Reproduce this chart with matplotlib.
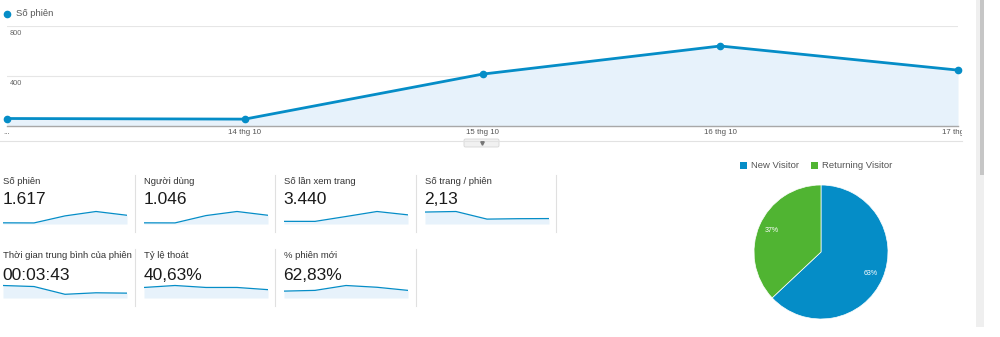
import matplotlib
matplotlib.use("Agg")
import matplotlib.pyplot as plt
from matplotlib.patches import Rectangle, FancyBboxPatch
from matplotlib.transforms import Bbox, TransformedBbox, blended_transform_factory

plt.rcParams['font.family'] = ['Liberation Sans', 'DejaVu Sans']

# ---------------- data ----------------
dates = ["...", "14 thg 10", "15 thg 10", "16 thg 10", "17 thg 10"]
sessions = [60, 55, 415, 640, 447]
y_ticks = [400, 800]

metric_titles = ["Số phiên", "Người dùng", "Số lần xem trang", "Số trang / phiên",
                 "Thời gian trung bình của phiên", "Tỷ lệ thoát", "% phiên mới"]
metric_values = ["1.617", "1.046", "3.440", "2,13", "00:03:43", "40,63%", "62,83%"]
spark_sessions = [60, 55, 415, 640, 447]
spark_users = [40, 38, 290, 430, 300]
spark_pageviews = [265, 262, 750, 1250, 913]
spark_pages_per_session = [4.4, 4.6, 1.8, 1.95, 2.0]
spark_duration = [540, 495, 160, 225, 210]
spark_bounce = [43, 51, 43, 43, 34]
spark_new = [43, 47.5, 78, 67, 47.5]
sparks = [spark_sessions, spark_users, spark_pageviews, spark_pages_per_session,
          spark_duration, spark_bounce, spark_new]

pie_labels = ["New Visitor", "Returning Visitor"]
pie_values = [63, 37]

BLUE = "#058dc7"
GREEN = "#50b432"
FILL = "#e7f2fb"

W, H = 1000, 337
fig = plt.figure(figsize=(10, 3.37), dpi=100)
fig.patch.set_facecolor("white")


def add_ax(x0, y0, x1, y1, **kw):
    return fig.add_axes([x0 / W, 1 - y1 / H, (x1 - x0) / W, (y1 - y0) / H], **kw)


# overlay axes in pixel coordinates (for separators / decoration)
ov = add_ax(0, 0, W, H)
ov.set_xlim(0, W)
ov.set_ylim(H, 0)
ov.axis("off")
ov.set_zorder(-1)

# ---------------- main line chart ----------------
ax = add_ax(7, 26, 958, 126)
x = list(range(len(sessions)))
ax.fill_between(x, sessions, 0, color=FILL, lw=0)
ax.plot(x, sessions, color=BLUE, lw=2.0, marker="o", ms=4.5, clip_on=False, zorder=5)
ax.set_xlim(0, len(sessions) - 1)
ax.set_ylim(0, 800)
for s in ["top", "right", "left"]:
    ax.spines[s].set_visible(False)
ax.spines["bottom"].set_color("#a8a8a8")
ax.spines["bottom"].set_linewidth(1.0)
ax.set_xticks([])
ax.set_yticks([])
for v in y_ticks:
    ax.axhline(v, color="#e6e6e6", lw=0.8, zorder=0, xmin=-0.01, xmax=1.0)
    ax.annotate(str(v), xy=(0.003, v), xycoords=("axes fraction", "data"),
                xytext=(0, -3), textcoords="offset points", ha="left", va="top",
                fontsize=5.3, color="#666666")
clip = TransformedBbox(Bbox.from_extents(0, 0, 962 / W, 1), fig.transFigure)
tb = blended_transform_factory(ax.transData, ax.transAxes)
for i, d in enumerate(dates):
    t = ax.text(i, -0.07, d, transform=tb, ha="center", va="center",
                fontsize=5.7, color="#555555", clip_on=True)
    t.set_clip_box(clip)

# legend of main chart
ov.plot([7], [14], "o", color=BLUE, ms=4.5)
ov.text(16, 14, "Số phiên", fontsize=6.8, color="#555555", va="center", ha="left")

# line under chart and the small toggle button
ov.plot([0, 962], [141, 141], color="#e2e2e2", lw=0.8)
ov.add_patch(FancyBboxPatch((464, 139), 35, 8, boxstyle="round,pad=0,rounding_size=1.5",
                            fc="#f1f1f1", ec="#d6d6d6", lw=0.6))
ov.plot([481.5], [143], marker="v", color="#777777", ms=2.5)

# scrollbar
ov.add_patch(Rectangle((976, 0), 8, 327, fc="#efefef", ec="none"))
ov.add_patch(Rectangle((980, 0), 4, 175, fc="#c6c6c6", ec="none"))

# ---------------- scorecards ----------------
col_left = [3, 144, 284, 425]
positions = [(0, 0), (1, 0), (2, 0), (3, 0), (0, 1), (1, 1), (2, 1)]
row_title_y = [181, 255]
row_value_y = [200, 275]
row_base_y = [224, 298]
for (c, r), title, val, sp in zip(positions, metric_titles, metric_values, sparks):
    x0 = col_left[c]
    ov.text(x0, row_title_y[r], title, fontsize=6.8, color="#333333", va="center", ha="left")
    ov.text(x0 - 0.5, row_value_y[r], val, fontsize=12.5, color="#1a1a1a", va="center", ha="left")
    sax = add_ax(x0, row_base_y[r] - 14, x0 + 124, row_base_y[r])
    xs = list(range(len(sp)))
    sax.fill_between(xs, sp, 0, color=FILL, lw=0)
    sax.plot(xs, sp, color=BLUE, lw=0.9)
    sax.set_xlim(0, len(sp) - 1)
    sax.set_ylim(0, max(sp) * 1.12)
    sax.axis("off")

# separators
for xs_ in [135, 275, 416, 556]:
    ov.plot([xs_, xs_], [175, 232], color="#e0e0e0", lw=0.8)
for xs_ in [135, 275, 416]:
    ov.plot([xs_, xs_], [249, 306], color="#e0e0e0", lw=0.8)

# ---------------- pie ----------------
pax = add_ax(821 - 67, 252 - 67, 821 + 67, 252 + 67)
wedges, texts, autotexts = pax.pie(
    pie_values, colors=[BLUE, GREEN], startangle=90, counterclock=False,
    autopct="%d%%", pctdistance=0.8, radius=1.0,
    wedgeprops=dict(edgecolor="white", linewidth=0.5),
    textprops=dict(color="white", fontsize=5.0))
pax.set_xlim(-1, 1)
pax.set_ylim(-1, 1)
pax.set_aspect("auto")

# pie legend
ov.add_patch(Rectangle((740, 162), 7, 7, fc=BLUE, ec="none"))
ov.text(751, 165.5, pie_labels[0], fontsize=6.8, color="#555555", va="center", ha="left")
ov.add_patch(Rectangle((811, 162), 7, 7, fc=GREEN, ec="none"))
ov.text(822, 165.5, pie_labels[1], fontsize=6.8, color="#555555", va="center", ha="left")

fig.savefig("out.png", dpi=100)
